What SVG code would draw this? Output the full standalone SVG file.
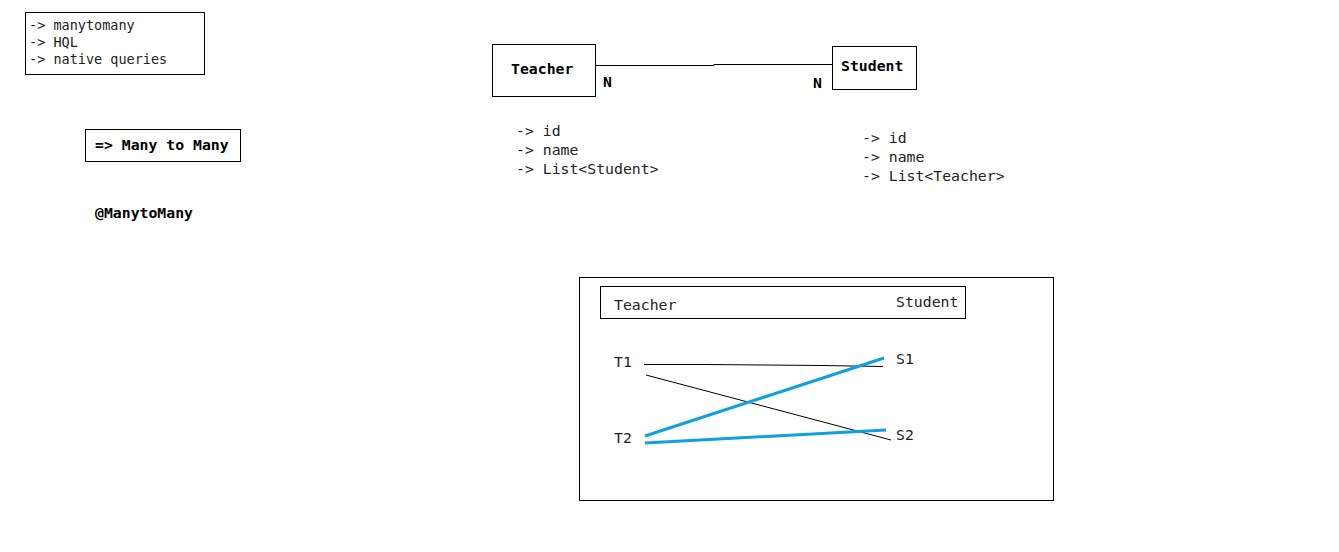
<svg xmlns="http://www.w3.org/2000/svg" width="1339" height="552" viewBox="0 0 1339 552">
<style>
.box{fill:#fff;stroke:#000;stroke-width:1}
.m{font-family:"DejaVu Sans Mono","Liberation Mono",monospace;fill:#222}
.s13{font-size:13.5px}
.s15{font-size:14.8px}
.b{font-weight:bold;fill:#000}
.ln{stroke:#000;stroke-width:1;fill:none}
.bl{stroke:#0ea0e2;stroke-width:3;fill:none}
</style>
<rect width="1339" height="552" fill="#fff"/>
<g id="notes">
<rect class="box" x="25.5" y="12.5" width="179" height="62"/>
<text class="m s13" x="29" y="30">-&gt; manytomany</text>
<text class="m s13" x="29" y="47">-&gt; HQL</text>
<text class="m s13" x="29" y="64">-&gt; native queries</text>
</g>
<g id="many-to-many">
<rect class="box" x="85.5" y="129.5" width="155" height="32"/>
<text class="m s15 b" x="95" y="150">=&gt; Many to Many</text>
</g>
<g id="annotation">
<text class="m s15 b" x="95" y="218">@ManytoMany</text>
</g>
<g id="teacher">
<rect class="box" x="492.5" y="44.5" width="103" height="52"/>
<text class="m s15 b" x="511" y="74">Teacher</text>
</g>
<g id="student">
<rect class="box" x="832.5" y="46.5" width="84" height="43"/>
<text class="m s15 b" x="841" y="71">Student</text>
</g>
<g id="connectors">
<polyline class="ln" points="596,65.5 714,65.5 714,64.5 832,64.5"/>
</g>
<g id="cardinality">
<text class="m s15 b" x="603" y="87">N</text>
<text class="m s15 b" x="813" y="88">N</text>
</g>
<g id="teacher-fields">
<text class="m s15" x="516" y="136">-&gt; id</text>
<text class="m s15" x="516" y="155">-&gt; name</text>
<text class="m s15" x="516" y="174">-&gt; List&lt;Student&gt;</text>
</g>
<g id="student-fields">
<text class="m s15" x="862" y="143">-&gt; id</text>
<text class="m s15" x="862" y="162">-&gt; name</text>
<text class="m s15" x="862" y="181">-&gt; List&lt;Teacher&gt;</text>
</g>
<g id="mapping">
<rect class="box" x="579.5" y="277.5" width="474" height="223"/>
<rect class="box" x="600.5" y="286.5" width="365" height="32"/>
<text class="m s15" x="614" y="310">Teacher</text>
<text class="m s15" x="896" y="307">Student</text>
<text class="m s15" x="614" y="367">T1</text>
<text class="m s15" x="614" y="443">T2</text>
<text class="m s15" x="896" y="364">S1</text>
<text class="m s15" x="896" y="440">S2</text>
<polyline class="ln" points="644,364.5 704,364.5 823,365.5 883,366.5"/>
<line class="ln" x1="646" y1="375" x2="891" y2="440"/>
<line class="bl" x1="645" y1="436" x2="884" y2="358"/>
<line class="bl" x1="645" y1="443" x2="886" y2="430"/>
</g>
</svg>
